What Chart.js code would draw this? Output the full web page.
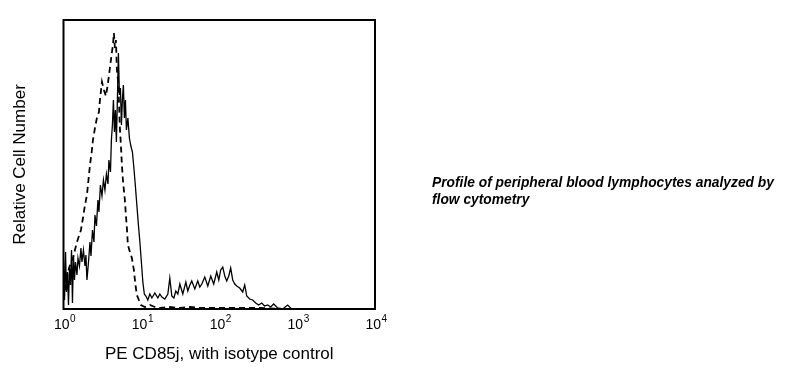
<!DOCTYPE html>
<html>
<head>
<meta charset="utf-8">
<script src="https://cdn.jsdelivr.net/npm/chart.js@4/dist/chart.umd.min.js"></script>
<style>
    html, body { margin: 0; padding: 0; background: #fff; }
    #wrap { position: relative; width: 797px; height: 377px; }
    #caption {
        position: absolute;
        left: 432px;
        top: 174px;
        font-family: "Liberation Sans", Arial, sans-serif;
        font-size: 13.8px;
        font-weight: bold;
        font-style: italic;
        line-height: 17px;
        color: #000;
    }
</style>
</head>
<body>
<div id="wrap">
    <canvas id="histChart" width="797" height="377"></canvas>
    <div id="caption">Profile of peripheral blood lymphocytes analyzed by<br>flow cytometry</div>
</div>
<script>
// x values are log10 of PE fluorescence (decades), y values are cell counts
const isotypeLog = [0.000, 0.019, 0.045, 0.071, 0.096, 0.122, 0.147, 0.173, 0.199, 0.224,
    0.250, 0.276, 0.301, 0.314, 0.340, 0.365, 0.378, 0.404, 0.429, 0.455,
    0.468, 0.494, 0.519, 0.545, 0.571, 0.596, 0.622, 0.635, 0.647, 0.660,
    0.673, 0.686, 0.699, 0.712, 0.724, 0.737, 0.750, 0.763, 0.788, 0.801,
    0.814, 0.827, 0.853, 0.878, 0.904, 0.917, 0.929, 0.942, 0.968, 0.994,
    1.045, 1.109, 1.173, 1.237, 1.365, 1.494, 1.622, 1.750, 2.006, 2.263,
    2.519, 2.776, 3.032, 3.994];
const isotypeCounts = [9, 19, 31, 41, 47, 51, 59, 67, 73, 79,
    91, 104, 114, 124, 144, 159, 169, 181, 191, 197,
    209, 227, 219, 213, 226, 241, 257, 264, 276, 261,
    269, 239, 229, 209, 181, 164, 144, 129, 109, 94,
    81, 64, 57, 51, 39, 29, 21, 14, 9, 4,
    2, 4, 2, 1, 2, 1, 2, 1, 1, 1,
    1, 0, 0, 0];

const cd85jLog = [0.000, 0.013, 0.026, 0.038, 0.051, 0.064, 0.077, 0.090, 0.103, 0.115,
    0.128, 0.141, 0.154, 0.173, 0.186, 0.205, 0.224, 0.237, 0.256, 0.276,
    0.288, 0.301, 0.321, 0.340, 0.353, 0.372, 0.391, 0.404, 0.423, 0.442,
    0.455, 0.474, 0.494, 0.513, 0.532, 0.551, 0.571, 0.583, 0.603, 0.615,
    0.628, 0.641, 0.654, 0.667, 0.679, 0.692, 0.705, 0.718, 0.731, 0.744,
    0.756, 0.769, 0.782, 0.795, 0.808, 0.827, 0.846, 0.865, 0.885, 0.904,
    0.923, 0.942, 0.962, 0.981, 1.000, 1.019, 1.038, 1.058, 1.083, 1.109,
    1.135, 1.173, 1.212, 1.237, 1.263, 1.301, 1.340, 1.365, 1.391, 1.417,
    1.442, 1.468, 1.494, 1.532, 1.571, 1.596, 1.622, 1.647, 1.686, 1.724,
    1.750, 1.776, 1.814, 1.853, 1.891, 1.929, 1.968, 1.994, 2.019, 2.045,
    2.071, 2.096, 2.122, 2.147, 2.173, 2.199, 2.224, 2.263, 2.301, 2.327,
    2.353, 2.391, 2.429, 2.468, 2.506, 2.545, 2.583, 2.622, 2.660, 2.699,
    2.750, 2.814, 2.878, 2.929, 3.994];
const cd85jCounts = [49, 9, 57, 17, 37, 4, 41, 24, 59, 6,
    54, 29, 47, 34, 51, 43, 61, 47, 59, 43,
    54, 29, 47, 67, 53, 79, 67, 94, 83, 109,
    97, 124, 113, 129, 119, 135, 125, 149, 137, 169,
    184, 209, 177, 199, 167, 209, 256, 214, 221, 184,
    209, 224, 191, 209, 179, 191, 171, 163, 157, 141,
    123, 104, 84, 67, 47, 27, 15, 13, 9, 15,
    11, 16, 11, 15, 12, 10, 15, 31, 13, 11,
    18, 15, 25, 15, 27, 18, 24, 28, 20, 28,
    22, 25, 32, 23, 33, 25, 37, 29, 39, 42,
    33, 28, 33, 41, 29, 25, 23, 21, 17, 24,
    13, 10, 9, 6, 4, 6, 3, 4, 2, 5,
    1, 0, 4, 0, 0];

const decadeTicks = [0, 1, 2, 3, 4];
const tickBase = '10';
const tickExponents = ['0', '1', '2', '3', '4'];

const FONT = '"Liberation Sans", Arial, sans-serif';

const toPoints = (xs, ys) => xs.map((x, i) => ({ x, y: ys[i] }));

const frameBox = {
    id: 'frameBox',
    afterDatasetsDraw(chart) {
        const { ctx, chartArea: a } = chart;
        ctx.save();
        ctx.strokeStyle = '#000';
        ctx.lineWidth = 2;
        ctx.strokeRect(a.left, a.top, a.right - a.left, a.bottom - a.top);
        ctx.restore();
    }
};

// 10 with a raised exponent under each decade
const decadeLabels = {
    id: 'decadeLabels',
    afterDraw(chart) {
        const { ctx, chartArea } = chart;
        const xScale = chart.scales.x;
        ctx.save();
        ctx.fillStyle = '#000';
        ctx.textBaseline = 'alphabetic';
        ctx.textAlign = 'left';
        decadeTicks.forEach((v, i) => {
            ctx.font = `14px ${FONT}`;
            const wBase = ctx.measureText(tickBase).width;
            ctx.font = `10px ${FONT}`;
            const wExp = ctx.measureText(tickExponents[i]).width;
            const left = xScale.getPixelForValue(v) - (wBase + wExp) / 2 + 1;
            ctx.font = `14px ${FONT}`;
            ctx.fillText(tickBase, left, chartArea.bottom + 19.5);
            ctx.font = `10px ${FONT}`;
            ctx.fillText(tickExponents[i], left + wBase + 0.5, chartArea.bottom + 13);
        });
        ctx.restore();
    }
};

const canvas = document.getElementById('histChart');
new Chart(canvas, {
    type: 'line',
    data: {
        datasets: [
            {
                label: 'Isotype control',
                data: toPoints(isotypeLog, isotypeCounts),
                borderColor: '#000',
                borderWidth: 1.8,
                borderDash: [6, 4],
                pointRadius: 0,
                tension: 0,
                fill: false
            },
            {
                label: 'PE CD85j',
                data: toPoints(cd85jLog, cd85jCounts),
                borderColor: '#000',
                borderWidth: 1.3,
                pointRadius: 0,
                tension: 0,
                fill: false
            }
        ]
    },
    options: {
        responsive: false,
        animation: false,
        layout: { padding: { left: 0, right: 422, top: 20, bottom: 0 } },
        scales: {
            x: {
                type: 'linear',
                min: 0,
                max: 4,
                afterBuildTicks: (scale) => {
                    scale.ticks = decadeTicks.map((v) => ({ value: v }));
                },
                afterFit: (scale) => { scale.height = 68; },
                grid: { display: false, drawTicks: false },
                border: { display: false },
                ticks: { display: false },
                title: {
                    display: true,
                    text: 'PE CD85j, with isotype control',
                    color: '#000',
                    padding: { top: 0, bottom: 12.5 },
                    font: { family: FONT, size: 17 }
                }
            },
            y: {
                min: 0,
                max: 289,
                afterFit: (scale) => { scale.width = 63.5; },
                grid: { display: false, drawTicks: false },
                border: { display: false },
                ticks: { display: false },
                title: {
                    display: true,
                    text: 'Relative Cell Number',
                    color: '#000',
                    padding: { top: 10.5, bottom: 0 },
                    font: { family: FONT, size: 17 }
                }
            }
        },
        plugins: {
            legend: { display: false },
            tooltip: { enabled: false }
        }
    },
    plugins: [frameBox, decadeLabels]
});
</script>
</body>
</html>
